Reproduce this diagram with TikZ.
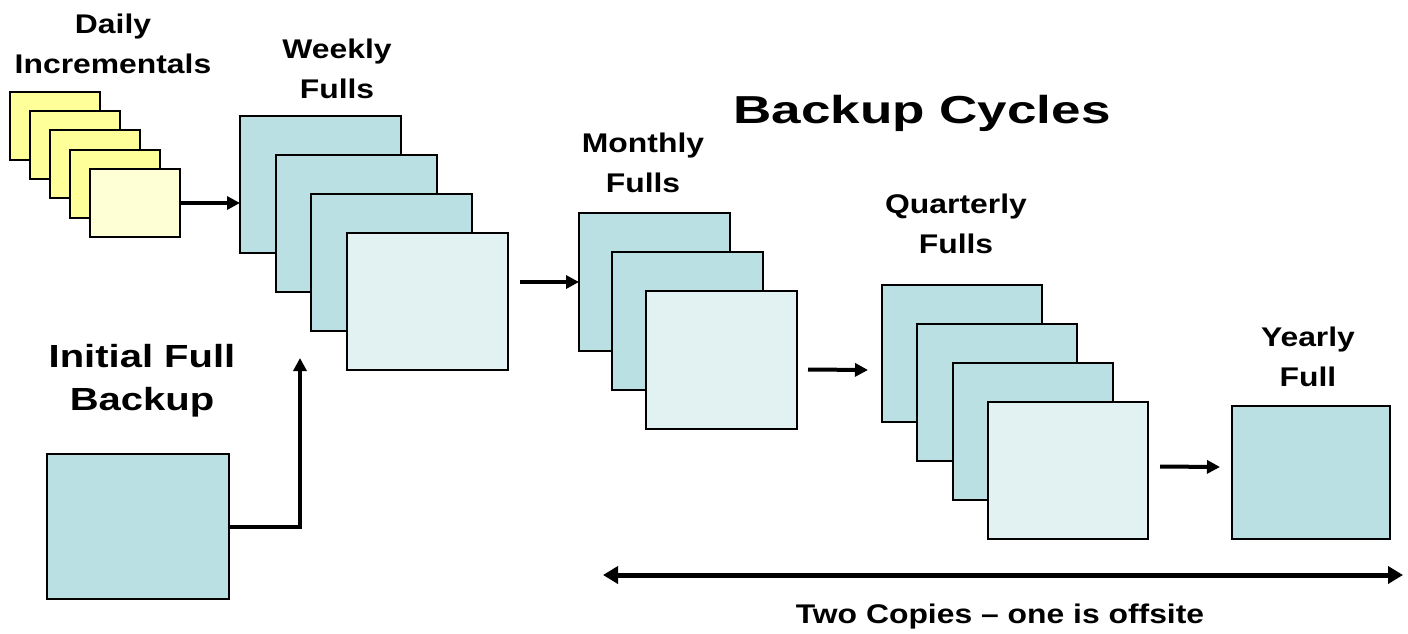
\documentclass[tikz,border=0pt]{standalone}
\usepackage{fontspec}
\setmainfont{Liberation Sans}
\usepackage{graphicx}
\usetikzlibrary{arrows.meta,calc}
\definecolor{tapeblue}{RGB}{187,224,227}
\definecolor{tapeblueL}{RGB}{226,241,242}
\definecolor{tapeyellow}{RGB}{255,255,153}
\definecolor{tapeyellowL}{RGB}{255,255,214}
% labels are set a little wide
\newcommand\wlab[2][1.18]{\scalebox{#1}[1]{#2}}
\begin{document}
\begin{tikzpicture}[x=1pt,y=-1pt,
  tape/.style={draw=black, line width=1.5pt, fill=tapeblue, anchor=north west,
    inner sep=0pt, outer sep=0pt},
  tapefront/.style={tape, fill=tapeblueL},
  daily/.style={tape, fill=tapeyellow, minimum width=90, minimum height=68},
  dailyfront/.style={daily, fill=tapeyellowL},
  wk/.style={minimum width=161, minimum height=137},
  mo/.style={minimum width=151, minimum height=138},
  qu/.style={minimum width=160, minimum height=137},
  lbl/.style={font=\bfseries\fontsize{27}{27}\selectfont, anchor=base, inner sep=0pt},
  flow/.style={line width=4pt, -{Triangle[length=13pt,width=13pt]}},
  span/.style={line width=5pt, {Triangle[length=15pt,width=17pt]}-{Triangle[length=15pt,width=17pt]}},
]
\useasboundingbox (0,0) rectangle (1408,633);

% daily incrementals
\node[daily] (d1) at (10,92) {};
\node[daily] (d2) at (30,111) {};
\node[daily] (d3) at (50,130) {};
\node[daily] (d4) at (70,150) {};
\node[dailyfront] (d5) at (90,169) {};

% weekly fulls
\node[tape, wk] (w1) at (240,116) {};
\node[tape, wk] (w2) at (276,155) {};
\node[tape, wk] (w3) at (311,194) {};
\node[tapefront, wk] (w4) at (347,233) {};

% monthly fulls
\node[tape, mo] (m1) at (579,213) {};
\node[tape, mo] (m2) at (612,252) {};
\node[tapefront, mo] (m3) at (646,291) {};

% quarterly fulls
\node[tape, qu] (q1) at (882,285) {};
\node[tape, qu] (q2) at (917,324) {};
\node[tape, qu] (q3) at (953,363) {};
\node[tapefront, qu] (q4) at (988,402) {};

% yearly and initial full
\node[tape, minimum width=158, minimum height=133] (yr) at (1232,406) {};
\node[tape, minimum width=182, minimum height=145] (ini) at (47,454) {};

% labels
\node[lbl] (tDaily) at (113,33) {\wlab{Daily}};
\node[lbl] (tIncr) at (113,73) {\wlab{Incrementals}};
\node[lbl] (tWeekly) at (337,58) {\wlab{Weekly}};
\node[lbl] (tWFulls) at (337,98) {\wlab{Fulls}};
\node[lbl] (tMonthly) at (643,152) {\wlab{Monthly}};
\node[lbl] (tMFulls) at (643,192) {\wlab{Fulls}};
\node[lbl] (tQuarterly) at (956,213) {\wlab{Quarterly}};
\node[lbl] (tQFulls) at (956,253) {\wlab{Fulls}};
\node[lbl] (tYearly) at (1308,346) {\wlab{Yearly}};
\node[lbl] (tYFull) at (1308,386) {\wlab{Full}};
\node[lbl, font=\bfseries\fontsize{32}{32}\selectfont] (tInit) at (142,367) {\wlab[1.25]{Initial Full}};
\node[lbl, font=\bfseries\fontsize{32}{32}\selectfont] (tInitB) at (142,410) {\wlab[1.25]{Backup}};
\node[lbl, font=\bfseries\fontsize{39}{39}\selectfont] (tTitle) at (922,123) {\wlab[1.36]{Backup Cycles}};
\node[lbl] (tCopies) at (1000,623) {\wlab{Two Copies – one is offsite}};

% connectors
\coordinate (iniTip) at (300,358);
\draw[flow] (d5.east) -- (d5.east -| w1.west);
\draw[flow] ([xshift=12]w4.east |- m1.west) -- (m1.west);
\draw[flow] ([shift={(11,9.5)}]m3.east) -- ([shift={(-14,16.5)}]q1.west);
\draw[flow] ([shift={(12,-4)}]q4.east) -- ([shift={(-12,-5.5)}]yr.west);
\draw[flow] (ini.east) -| (iniTip);

\coordinate (spanL) at (603,575);
\coordinate (spanR) at (1403,575);
\draw[span] (spanL) -- (spanR);
\end{tikzpicture}
\end{document}
